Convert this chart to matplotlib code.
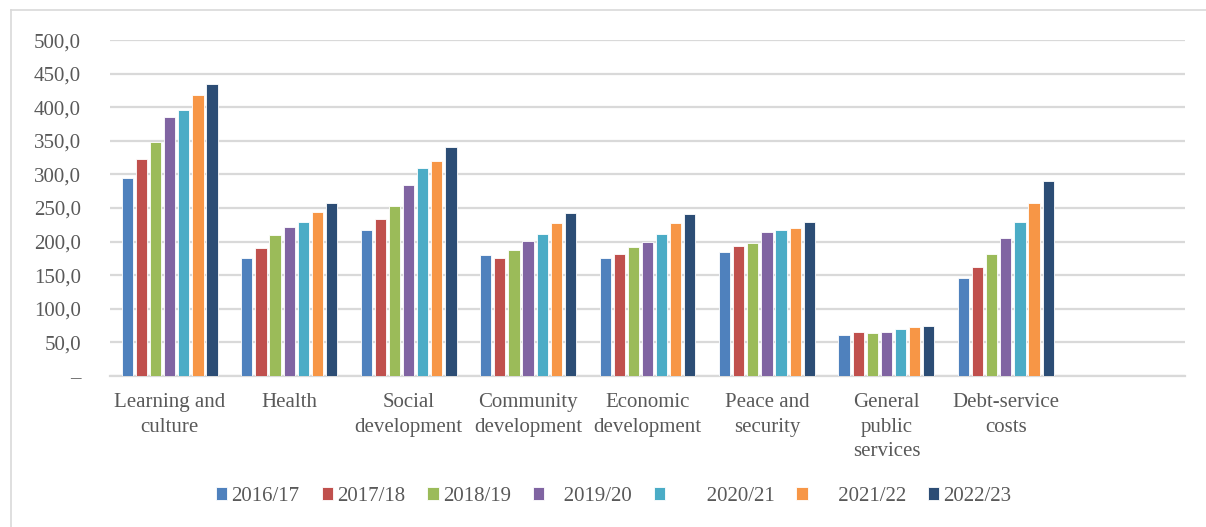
"""
Expenditure by function, 2016/17 to 2022/23 (grouped bars).
"""

import matplotlib.pyplot as plt
import numpy as np
from matplotlib.lines import Line2D

plt.rcParams['font.family'] = ['Liberation Serif', 'DejaVu Serif']

categories = ["Learning and\nculture", "Health", "Social\ndevelopment", "Community\ndevelopment",
              "Economic\ndevelopment", "Peace and\nsecurity", "General\npublic\nservices",
              "Debt-service\ncosts", ""]
years = ["2016/17", "2017/18", "2018/19", "   2019/20", "       2020/21", "     2021/22", "2022/23"]

# one list per year, values in category order (last slot is empty)
y2016 = [294.4, 175.3, 218.0, 180.6, 175.6, 185.0, 60.7, 146.3]
y2017 = [322.7, 191.2, 233.9, 176.1, 181.1, 194.0, 65.2, 162.7]
y2018 = [348.6, 209.5, 253.7, 187.6, 192.0, 198.5, 64.2, 181.6]
y2019 = [385.3, 221.5, 284.0, 201.5, 199.0, 214.4, 65.7, 205.0]
y2020 = [396.2, 229.4, 309.3, 211.9, 211.4, 217.0, 69.7, 229.4]
y2021 = [417.6, 243.8, 319.3, 228.4, 228.4, 220.9, 73.1, 258.2]
y2022 = [434.5, 257.2, 340.6, 242.3, 241.3, 228.9, 74.1, 290.5]
series = [y2016, y2017, y2018, y2019, y2020, y2021, y2022]

colors = ["#4F81BD", "#C0504D", "#9BBB59", "#8064A2", "#4BACC6", "#F79646", "#2C4D75"]
txt = "#595959"

fig = plt.figure(figsize=(12.06, 5.27), dpi=100)
ax = fig.add_axes([0.0912, 0.2865, 0.8914, 0.6375])

x = np.arange(len(categories))
pitch = 0.118
width = 0.094
for i, (vals, col, lab) in enumerate(zip(series, colors, years)):
    offs = (i - 3) * pitch
    ax.bar(x[:len(vals)] + offs, vals, width=width, color=col, edgecolor="white",
           linewidth=0.6, label=lab, zorder=3)

ax.set_xlim(-0.5, len(categories) - 0.5)
ax.set_ylim(0, 500)
ax.set_yticks(np.arange(0, 501, 50))
ax.set_yticklabels(["–"] + [f"{v:.1f}".replace(".", ",") for v in np.arange(50, 501, 50)])
ax.set_xticks(x)
ax.set_xticklabels(categories, fontsize=15, linespacing=1.42, va="top")
ax.tick_params(axis="y", labelsize=15, length=0, pad=21, labelcolor=txt)
ax.tick_params(axis="x", length=0, pad=12, labelcolor=txt)
ax.grid(axis="y", color="#d9d9d9", linewidth=1.6, zorder=0)
for s in ["top", "right", "left"]:
    ax.spines[s].set_visible(False)
ax.spines["bottom"].set_color("#d9d9d9")
ax.spines["bottom"].set_linewidth(1.6)

leg = fig.legend(loc="center", bbox_to_anchor=(0.509, 0.058), ncol=7, frameon=False,
                 fontsize=15, handlelength=0.55, handleheight=0.55, handletextpad=0.2,
                 columnspacing=1.05)
for t in leg.get_texts():
    t.set_color(txt)

# chart frame: only its left and top edges fall inside the picture
W, H = 1206, 527
fig.lines.append(Line2D([11 / W, 11 / W], [0, 1 - 10 / H], transform=fig.transFigure,
                        color="#d9d9d9", linewidth=1.2))
fig.lines.append(Line2D([11 / W, 1], [1 - 10 / H, 1 - 10 / H], transform=fig.transFigure,
                        color="#d9d9d9", linewidth=1.2))

fig.savefig("out.png", dpi=100)
plt.close(fig)
